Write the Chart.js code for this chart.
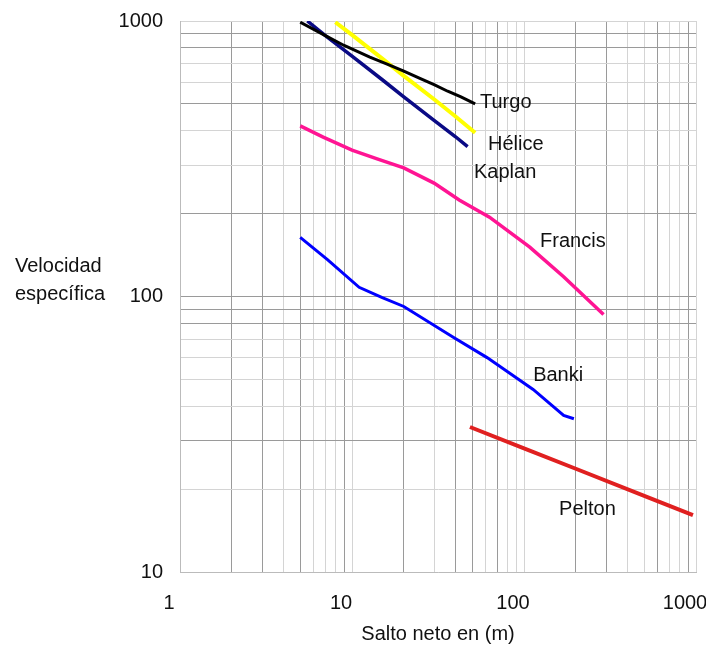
<!DOCTYPE html>
<html>
<head>
<meta charset="utf-8">
<script src="https://cdn.jsdelivr.net/npm/chart.js@4.4.1/dist/chart.umd.min.js"></script>
<style>
html, body { margin: 0; padding: 0; background: #fff; }
#wrap { width: 706px; height: 650px; }
</style>
</head>
<body>
<div id="wrap"><canvas id="turbinas"></canvas></div>
<script>
// valores (salto neto en m, velocidad especifica)
const turgoX = [5, 7, 9, 12.7, 16, 20, 25, 30, 36, 43, 52];
const turgoY = [990, 885, 815, 740, 698, 658, 618, 588, 556, 530, 500];

const heliceX = [8, 10, 15, 20, 30, 40, 52];
const heliceY = [990, 890, 730, 632, 520, 450, 393];

const kaplanX = [5.5, 7, 10, 15, 20, 30, 40, 47];
const kaplanY = [1000, 885, 745, 612, 530, 436, 380, 350];

const francisX = [5, 6.8, 10, 14, 20, 30, 42, 63, 108, 170, 290];
const francisY = [416, 379, 340, 316, 293, 258, 224, 194, 151, 118, 86];

const bankiX = [5, 7.2, 11, 15, 20, 39, 61, 113, 170, 195];
const bankiY = [164, 136, 108, 99, 92, 71, 60, 46, 37, 36];

const peltonX = [48.5, 100, 200, 500, 960];
const peltonY = [33.6, 28.1, 23.7, 18.9, 16.1];

const majorTicks = [1, 10, 100, 1000];

// lineas de rejilla mas marcadas (como en el original)
const darkX = [2, 3, 5, 9, 20, 40, 50, 70, 200, 300, 600, 900];
const darkY = [30, 80, 90, 100, 200, 500, 800, 900];

// donde va el nombre de cada curva (coordenadas de datos)
const curveLabels = [
  { text: 'Turgo', x: 55.5, y: 508 },
  { text: 'Hélice', x: 61.8, y: 355 },
  { text: 'Kaplan', x: 51.2, y: 283 },
  { text: 'Francis', x: 124, y: 159 },
  { text: 'Banki', x: 113, y: 51.5 },
  { text: 'Pelton', x: 160, y: 16.8 }
];

function pts(xs, ys) {
  return xs.map((x, i) => ({ x: x, y: ys[i] }));
}

function decadeTicks(scale, from, to) {
  const t = [];
  for (let d = from; d < to; d *= 10) {
    for (let k = 1; k < 10; k++) t.push({ value: k * d });
  }
  t.push({ value: to });
  scale.ticks = t;
}

function gridColor(list) {
  return ctx => (list.includes(ctx.tick && ctx.tick.value) ? '#9a9a9a' : '#d4d4d4');
}

Chart.defaults.font.family = "'Liberation Sans', Arial, sans-serif";
Chart.defaults.font.size = 20;
Chart.defaults.color = '#111';

const textPlugin = {
  id: 'textos',
  afterDatasetsDraw(chart) {
    const c = chart.ctx;
    const sx = chart.scales.x, sy = chart.scales.y;
    c.save();
    c.fillStyle = '#111';
    c.font = "20px 'Liberation Sans', Arial, sans-serif";
    c.textAlign = 'left';
    c.textBaseline = 'middle';
    curveLabels.forEach(l => {
      c.fillText(l.text, sx.getPixelForValue(l.x), sy.getPixelForValue(l.y));
    });
    c.fillText('Velocidad', 15, 266);
    c.fillText('específica', 15, 294);
    c.restore();
  }
};

const ds = (label, xs, ys, color, w) => ({
  label: label,
  data: pts(xs, ys),
  borderColor: color,
  backgroundColor: color,
  borderWidth: w,
  pointRadius: 0,
  showLine: true,
  tension: 0
});

new Chart(document.getElementById('turbinas'), {
  type: 'scatter',
  data: {
    datasets: [
      ds('Turgo', turgoX, turgoY, '#000000', 3),
      ds('Kaplan', kaplanX, kaplanY, '#0a0a85', 3.5),
      ds('Hélice', heliceX, heliceY, '#ffff00', 4),
      ds('Francis', francisX, francisY, '#ff1493', 3.5),
      ds('Banki', bankiX, bankiY, '#0000ff', 3),
      ds('Pelton', peltonX, peltonY, '#e02020', 4)
    ]
  },
  options: {
    responsive: true,
    maintainAspectRatio: false,
    animation: false,
    layout: { padding: { top: 21, right: 10, left: 0, bottom: 0 } },
    plugins: {
      legend: { display: false },
      tooltip: { enabled: false }
    },
    scales: {
      x: {
        type: 'logarithmic',
        min: 1,
        max: 1000,
        afterBuildTicks: s => decadeTicks(s, 1, 1000),
        afterFit: s => { s.height = 78; s.paddingLeft = 0; s.paddingRight = 0; },
        grid: { color: gridColor(darkX), drawTicks: false },
        border: { color: '#bbb' },
        ticks: {
          autoSkip: false,
          maxRotation: 0,
          padding: 19,
          labelOffset: -11,
          callback: v => (majorTicks.includes(v) ? String(v) : '')
        },
        title: { display: true, text: 'Salto neto en (m)', padding: { top: 0, bottom: 4 } }
      },
      y: {
        type: 'logarithmic',
        min: 10,
        max: 1000,
        afterBuildTicks: s => decadeTicks(s, 10, 1000),
        afterFit: s => { s.width = 180; s.paddingTop = 0; s.paddingBottom = 0; },
        grid: { color: gridColor(darkY), drawTicks: false },
        border: { color: '#bbb' },
        ticks: {
          autoSkip: false,
          padding: 17,
          callback: v => (majorTicks.includes(v) ? String(v) : '')
        }
      }
    }
  },
  plugins: [textPlugin]
});
</script>
</body>
</html>
